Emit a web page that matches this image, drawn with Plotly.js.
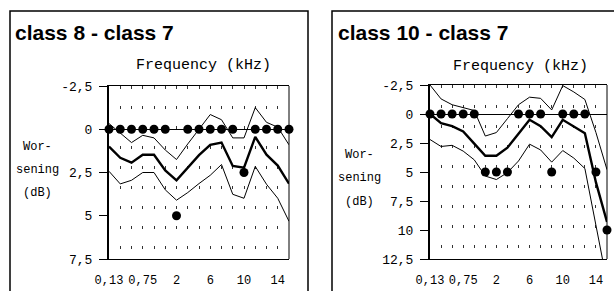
<!DOCTYPE html>
<html>
<head>
<meta charset="utf-8">
<script src="https://cdn.plot.ly/plotly-3.0.1.min.js"></script>
<style>html,body{margin:0;padding:0;background:#fff;}#chart{width:614px;height:291px;}</style>
</head>
<body>
<div id="chart"></div>
<script>
// Frequency categories (kHz) and the labels shown under the axis
const freqs = ["0.13","0.25","0.5","0.75","1","1.5","2","3","4","6","8","9","10","11","12","14","16"];
const freqLabels = ["0,13","","","0,75","","","2","","","6","","","10","","","14",""];

// Panel 1: class 8 - class 7
const p1Title = "class 8 - class 7";
const p1Upper = [-0.33, 0.2, 0.77, 0.35, 0.5, 1.2, 1.75, 0.85, 0.0, -0.85, -0.55, 0.5, 0.5, -1.25, -0.4, -0.12, 0.9];
const p1Mean  = [1.0, 1.65, 1.93, 1.47, 1.47, 2.38, 2.95, 2.2, 1.5, 0.9, 0.77, 2.12, 2.22, 0.44, 1.47, 2.1, 3.15];
const p1Lower = [2.43, 3.16, 2.95, 2.5, 2.5, 3.5, 4.1, 3.66, 3.14, 2.66, 2.04, 3.76, 3.99, 2.15, 3.18, 3.99, 5.32];
const p1Dots  = [0, 0, 0, 0, 0, 0, 5, 0, 0, 0, 0, 0, 2.5, 0, 0, 0, 0];
const p1YTicks = [-2.5, 0, 2.5, 5, 7.5];
const p1YLabels = ["-2,5", "0", "2,5", "5", "7,5"];

// Panel 2: class 10 - class 7
const p2Title = "class 10 - class 7";
const p2Upper = [-2.5, -1.3, -0.8, -0.55, -0.3, 1.9, 1.6, 0.4, -0.8, -1.45, -1.35, -0.35, -2.45, -1.9, -1.25, 1.6, 4.8];
const p2Mean  = [0, 0.8, 1.05, 1.5, 2.55, 3.6, 3.6, 2.9, 1.7, 0.5, 1.05, 2.0, 0.5, 1.05, 1.65, 5.9, 9.3];
const p2Lower = [2.2, 2.8, 2.7, 3.2, 3.95, 5.35, 5.65, 5.05, 4.05, 2.6, 3.1, 4.15, 3.15, 3.8, 4.7, 9.9, 14.5];
const p2Dots  = [0, 0, 0, 0, 0, 5, 5, 5, 0, 0, 0, 5, 0, 0, 0, 5, 10];
const p2YTicks = [-2.5, 0, 2.5, 5, 7.5, 10, 12.5];
const p2YLabels = ["-2,5", "0", "2,5", "5", "7,5", "10", "12,5"];

const xTitle = "Frequency (kHz)";
const yTitleLines = ["Wor-", "sening", "(dB)"];

const W = 614, H = 291;
const px = v => v / W;
const py = v => 1 - v / H;
const MONO = "Liberation Mono, Courier New, monospace";

function traces(xa, ya, up, mean, low, dots) {
  const thin = {color: "#000", width: 1};
  return [
    {x: freqs, y: up, xaxis: xa, yaxis: ya, mode: "lines", line: thin, hoverinfo: "skip"},
    {x: freqs, y: low, xaxis: xa, yaxis: ya, mode: "lines", line: thin, hoverinfo: "skip"},
    {x: freqs, y: mean, xaxis: xa, yaxis: ya, mode: "lines", line: {color: "#000", width: 2.4}, hoverinfo: "skip"},
    {x: freqs, y: dots, xaxis: xa, yaxis: ya, mode: "markers", marker: {color: "#000", size: 9}, cliponaxis: false, hoverinfo: "skip"}
  ];
}

function xAxis(dom, anchor) {
  return {
    type: "category", domain: dom, anchor: anchor, range: [0, freqs.length - 1],
    tickmode: "array", tickvals: freqs, ticktext: freqLabels, ticks: "", tickangle: 0,
    ticklabelstandoff: 10,
    showgrid: true, gridcolor: "#333", gridwidth: 1, griddash: "3px,17px",
    showline: true, mirror: true, linecolor: "#000", linewidth: 1,
    zeroline: false, tickfont: {family: MONO, size: 12, color: "#000"}, fixedrange: true
  };
}
function yAxis(dom, anchor, ticks, labels, range) {
  return {
    domain: dom, anchor: anchor, range: range, tickmode: "array", tickvals: ticks, ticktext: labels,
    ticks: "outside", ticklen: 8, tickwidth: 1, tickcolor: "#000", ticklabelstandoff: 4,
    showgrid: false, showline: true, linecolor: "#000", linewidth: 2,
    zeroline: true, zerolinecolor: "#000", zerolinewidth: 1,
    tickfont: {family: MONO, size: 13, color: "#000"}, fixedrange: true
  };
}

const data = [].concat(
  traces("x", "y", p1Upper, p1Mean, p1Lower, p1Dots),
  traces("x2", "y2", p2Upper, p2Mean, p2Lower, p2Dots)
);

const annotations = [];
function panelText(title, titleX, freqX, freqY, yLabX, yLabYs) {
  annotations.push({text: "<b>" + title + "</b>", xref: "paper", yref: "paper", x: px(titleX), y: py(32),
    xanchor: "left", yanchor: "middle", showarrow: false,
    font: {family: "Liberation Sans, Arial, sans-serif", size: 21, color: "#000"}});
  annotations.push({text: xTitle, xref: "paper", yref: "paper", x: px(freqX), y: py(freqY),
    xanchor: "center", yanchor: "middle", showarrow: false, font: {family: MONO, size: 15, color: "#000"}});
  yTitleLines.forEach((t, i) => annotations.push({text: t, xref: "paper", yref: "paper", x: px(yLabX), y: py(yLabYs[i]),
    xanchor: "center", yanchor: "middle", showarrow: false, font: {family: MONO, size: 12, color: "#000"}}));
}
panelText(p1Title, 13, 203, 65, 37, [147, 170, 193]);
panelText(p2Title, 336, 520, 67, 359, [155, 178, 202]);

const shapes = [
  {type: "rect", xref: "paper", yref: "paper", x0: px(10), x1: px(308), y0: -0.2, y1: py(11), line: {color: "#000", width: 1.5}},
  {type: "rect", xref: "paper", yref: "paper", x0: px(332), x1: 1.2, y0: -0.2, y1: py(11), line: {color: "#000", width: 1.5}},
  {type: "line", xref: "x domain", yref: "y domain", x0: 1, x1: 1, y0: 0, y1: 1, line: {color: "#000", width: 1}},
  {type: "line", xref: "x2 domain", yref: "y2 domain", x0: 1, x1: 1, y0: 0, y1: 1, line: {color: "#000", width: 1}}
];

const layout = {
  width: W, height: H, margin: {l: 0, r: 0, t: 0, b: 0},
  paper_bgcolor: "#fff", plot_bgcolor: "#fff", showlegend: false,
  xaxis: xAxis([px(109), px(289)], "y"),
  yaxis: yAxis([py(259), py(86)], "x", p1YTicks, p1YLabels, [7.5, -2.5]),
  xaxis2: xAxis([px(430), px(607)], "y2"),
  yaxis2: yAxis([py(259), py(85)], "x2", p2YTicks, p2YLabels, [12.5, -2.5]),
  annotations: annotations, shapes: shapes
};

Plotly.newPlot("chart", data, layout, {staticPlot: true, displayModeBar: false});
</script>
</body>
</html>
